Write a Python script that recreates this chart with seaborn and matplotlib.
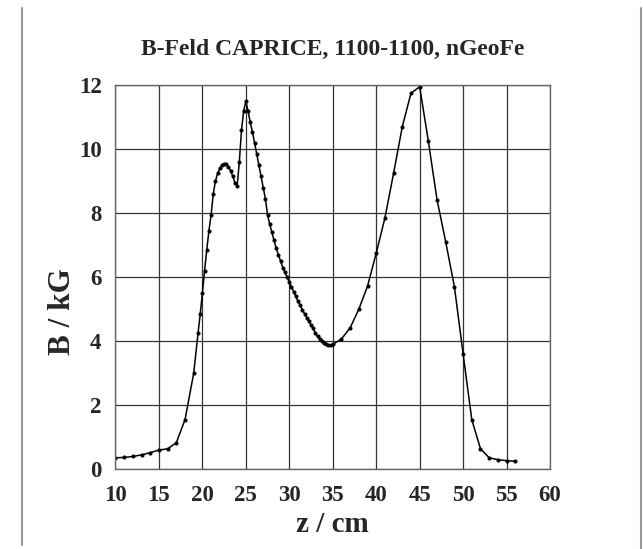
import matplotlib
matplotlib.use("Agg")
import matplotlib.pyplot as plt
import seaborn as sns
import pandas as pd
from matplotlib.lines import Line2D

z_cm = [10, 11, 12, 13, 14, 15, 16, 17, 18, 19, 19.5, 19.75,
        20.0, 20.25, 20.5, 20.75, 21.0, 21.25, 21.5, 21.75, 22.0, 22.25, 22.5, 22.75,
        23.0, 23.25, 23.5, 23.75, 24.0, 24.25, 24.5, 24.75, 25.0, 25.25, 25.5, 25.75,
        26.0, 26.25, 26.5, 26.75, 27.0, 27.25, 27.5, 27.75, 28.0, 28.25, 28.5, 28.75,
        29.0, 29.25, 29.5, 29.75, 30.0, 30.25, 30.5, 30.75, 31.0, 31.25, 31.5, 31.75,
        32.0, 32.25, 32.5, 32.75, 33.0, 33.25, 33.5, 33.75, 34.0, 34.25, 34.5, 34.75,
        35.0, 36, 37, 38, 39, 40, 41, 42, 43, 44, 45, 46, 47, 48, 49, 50, 51, 52,
        53, 54, 55, 56]
b_kg = [0.36, 0.37, 0.40, 0.45, 0.52, 0.60, 0.64, 0.83, 1.55, 3.0, 4.25, 4.85,
        5.5, 6.2, 6.85, 7.45, 7.95, 8.6, 9.0, 9.25, 9.4, 9.5, 9.54, 9.53,
        9.45, 9.33, 9.15, 8.95, 8.85, 9.6, 10.6, 11.2, 11.5, 11.2, 10.85, 10.55,
        10.2, 9.85, 9.5, 9.15, 8.8, 8.45, 7.95, 7.65, 7.4, 7.15, 6.9, 6.7,
        6.5, 6.3, 6.15, 6.0, 5.85, 5.7, 5.55, 5.4, 5.25, 5.12, 4.98, 4.86,
        4.73, 4.62, 4.5, 4.4, 4.25, 4.15, 4.06, 4.0, 3.96, 3.92, 3.89, 3.88,
        3.9, 4.07, 4.42, 5.0, 5.72, 6.75, 7.85, 9.25, 10.7, 11.75, 11.95, 10.25,
        8.42, 7.1, 5.7, 3.6, 1.55, 0.64, 0.36, 0.30, 0.27, 0.25]

x_ticks = [10, 15, 20, 25, 30, 35, 40, 45, 50, 55, 60]
y_ticks = [0, 2, 4, 6, 8, 10, 12]

title = "B-Feld CAPRICE, 1100-1100, nGeoFe"
xlabel = "z / cm"
ylabel = "B / kG"

df = pd.DataFrame({"z": z_cm, "B": b_kg})

sns.set_style("white")
plt.rcParams["font.family"] = ["Liberation Serif", "DejaVu Serif"]

fig = plt.figure(figsize=(6.43, 5.49), dpi=100)
ax = fig.add_axes([0.1796, 0.1452, 0.6758, 0.6996])

sns.lineplot(data=df, x="z", y="B", ax=ax, color="black", linewidth=1.1,
             marker="o", markersize=2.2, markeredgecolor="black", sort=False)

ax.set_xlim(10, 60)
ax.set_ylim(0, 12)
ax.set_xticks(x_ticks)
ax.set_yticks(y_ticks)
ax.set_xticklabels([str(t) for t in x_ticks], fontsize=16.5, fontweight="bold")
ax.set_yticklabels([str(t) for t in y_ticks], fontsize=16.5, fontweight="bold")
ax.tick_params(axis="x", length=0, pad=11)
ax.tick_params(axis="y", length=0, pad=10)
ax.grid(True, color="#333333", linewidth=0.9)
for s in ax.spines.values():
    s.set_color("#666666")
    s.set_linewidth(1.0)

ax.set_xlabel(xlabel, fontsize=21, fontweight="bold", labelpad=4)
ax.set_ylabel(ylabel, fontsize=22.5, fontweight="bold")
ax.yaxis.set_label_coords(-0.088, 0.41)
ax.set_title(title, fontsize=17, fontweight="bold", pad=22)

# outer frame lines as in the reference
fig.add_artist(Line2D([22 / 643, 22 / 643], [1 - 8 / 549, 1 - 545 / 549],
                      color="#999999", linewidth=1.5, transform=fig.transFigure))
fig.add_artist(Line2D([641 / 643, 641 / 643], [1 - 8 / 549, 0],
                      color="#999999", linewidth=1.5, transform=fig.transFigure))

fig.savefig("out.png", dpi=100)
